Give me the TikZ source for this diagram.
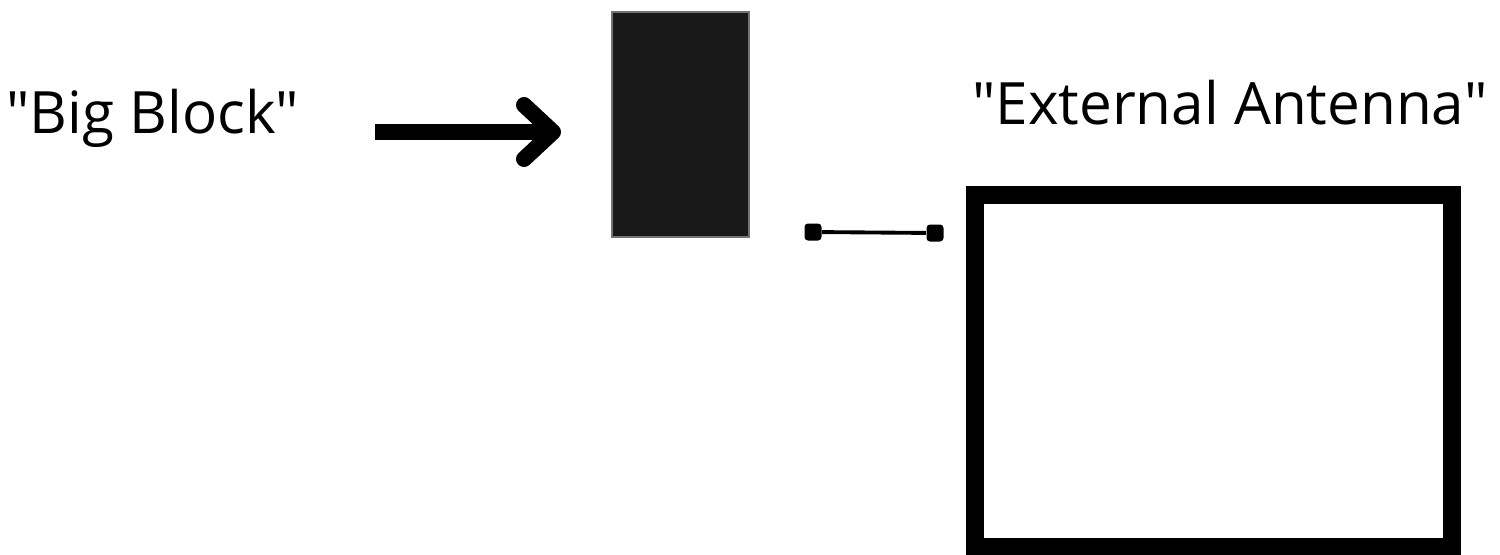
\documentclass[tikz,border=0pt]{standalone}
\usepackage{fontspec}
\setmainfont{Open Sans}
\usepackage{tikz}
\usetikzlibrary{positioning, calc}

\begin{document}
\begin{tikzpicture}[x=0.01cm, y=-0.01cm,
  label/.style={font=\fontsize{16.6pt}{19pt}\selectfont, inner sep=0pt, anchor=center},
  blockfill/.style={fill=black!90, draw=black!55, line width=0.5pt},
  pad/.style={fill=black, rounded corners=1pt, minimum size=0.17cm, inner sep=0pt},
  wire/.style={line width=1.1pt},
  bigarrow/.style={line width=0.16cm},
  antennabox/.style={draw=black, line width=0.175cm}
]
\useasboundingbox (0,0) rectangle (1500,554);

% Labels
\node[label] (biglabel) at (153,118) {\textquotedbl Big Block\textquotedbl};
\node[label] (extlabel) at (1230,103) {\textquotedbl External Antenna\textquotedbl};

% Big arrow pointing at the block
\coordinate (arrowtail) at (375,132);
\coordinate (arrowtip)  at (553,132);
\draw[bigarrow] (arrowtail) -- ($(arrowtip)+(-4,0)$);
\draw[bigarrow, line cap=round, line join=round]
  ($(arrowtip)+(-29,-27)$) -- (arrowtip) -- ($(arrowtip)+(-29,27)$);

% The block
\path[blockfill] (612,12) rectangle (749,237);
\node[inner sep=0pt, minimum width=1.37cm, minimum height=2.25cm] (block) at (680.5,124.5) {};

% Connector with square ends
\node[pad] (padleft)  at (813,232) {};
\node[pad] (padright) at (935,233) {};
\draw[wire] (padleft) -- (padright);

% Antenna frame
\draw[antennabox] (975,195) rectangle (1452,547);
\node[inner sep=0pt, minimum width=4.77cm, minimum height=3.52cm] (antenna) at (1213.5,371) {};

\end{tikzpicture}
\end{document}
